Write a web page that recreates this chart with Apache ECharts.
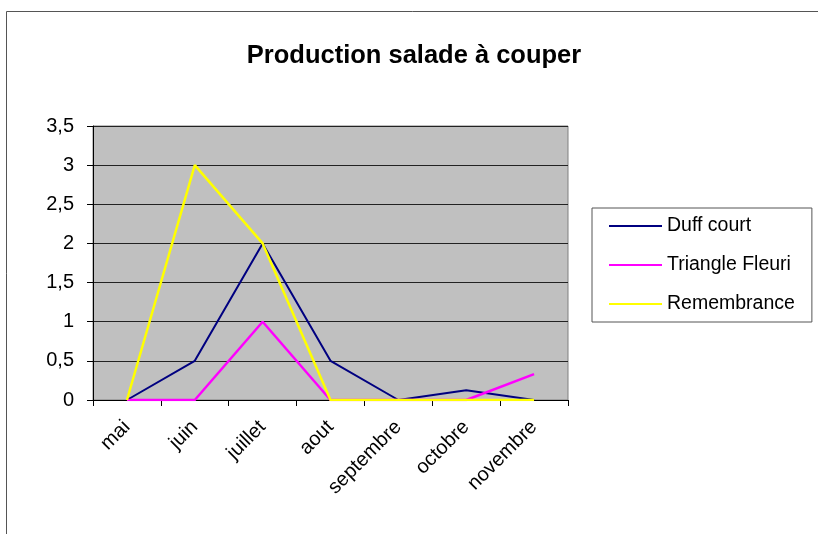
<!DOCTYPE html>
<html>
  <head>
    <meta charset="utf-8">
    <title>Production salade à couper</title>
    <style>
      html, body { margin: 0; padding: 0; background: #fff; }
      #main { width: 818px; height: 534px; }
    </style>
  </head>
  <body>
    <div id="main"></div>
    <script src="https://cdn.jsdelivr.net/npm/echarts@6/dist/echarts.min.js"></script>
    <script type="text/javascript">
      var mois = ['mai', 'juin', 'juillet', 'aout', 'septembre', 'octobre', 'novembre'];
      var duffCourt = [0, 0.5, 2, 0.5, 0, 0.125, 0];
      var triangleFleuri = [0, 0, 1, 0, 0, 0, 0.33];
      var remembrance = [0, 3, 2, 0, 0, 0, 0];

      var police = 'Liberation Sans, Arial, sans-serif';
      var myChart = echarts.init(document.getElementById('main'));

      function serie(nom, couleur, largeur, data) {
        return {
          name: nom,
          type: 'line',
          data: data,
          symbol: 'none',
          lineStyle: { color: couleur, width: largeur },
          itemStyle: { color: couleur }
        };
      }

      myChart.setOption({
        animation: false,
        title: {
          text: 'Production salade à couper',
          left: 409,
          textAlign: 'center',
          top: 38,
          textStyle: { fontFamily: police, fontSize: 25.5, fontWeight: 'bold', color: '#000' }
        },
        graphic: [{
          type: 'rect',
          shape: { x: 6.5, y: 11.5, width: 900, height: 600 },
          style: { fill: 'none', stroke: '#555', lineWidth: 1 },
          silent: true
        }],
        legend: {
          orient: 'vertical',
          left: 592,
          top: 208,
          padding: [8, 17, 8, 17],
          itemGap: 19,
          itemWidth: 53,
          itemHeight: 2,
          icon: 'rect',
          borderColor: '#555',
          borderWidth: 1,
          borderRadius: 0,
          data: ['Duff court', 'Triangle Fleuri', 'Remembrance'],
          textStyle: { fontFamily: police, fontSize: 19.5, color: '#000' }
        },
        grid: {
          left: 93,
          top: 126,
          width: 475,
          height: 274,
          show: true,
          backgroundColor: '#c0c0c0',
          borderColor: '#808080',
          borderWidth: 1
        },
        xAxis: {
          type: 'category',
          data: mois,
          boundaryGap: true,
          axisLine: { lineStyle: { color: '#000', width: 1 } },
          axisTick: { show: true, length: 6, interval: 0, lineStyle: { color: '#000' } },
          axisLabel: { rotate: 45, interval: 0, margin: 24, fontFamily: police, fontSize: 20, color: '#000' }
        },
        yAxis: {
          type: 'value',
          min: 0,
          max: 3.5,
          interval: 0.5,
          axisLine: { show: true, lineStyle: { color: '#000', width: 1 } },
          axisTick: { show: true, length: 6, lineStyle: { color: '#000' } },
          splitLine: { lineStyle: { color: '#222', width: 1 } },
          axisLabel: {
            margin: 19,
            fontFamily: police,
            fontSize: 20,
            color: '#000',
            formatter: function (v) { return String(v).replace('.', ','); }
          }
        },
        series: [
          serie('Duff court', '#000080', 2, duffCourt),
          serie('Triangle Fleuri', '#ff00ff', 2.5, triangleFleuri),
          serie('Remembrance', '#ffff00', 2.5, remembrance)
        ]
      });
    </script>
  </body>
</html>
